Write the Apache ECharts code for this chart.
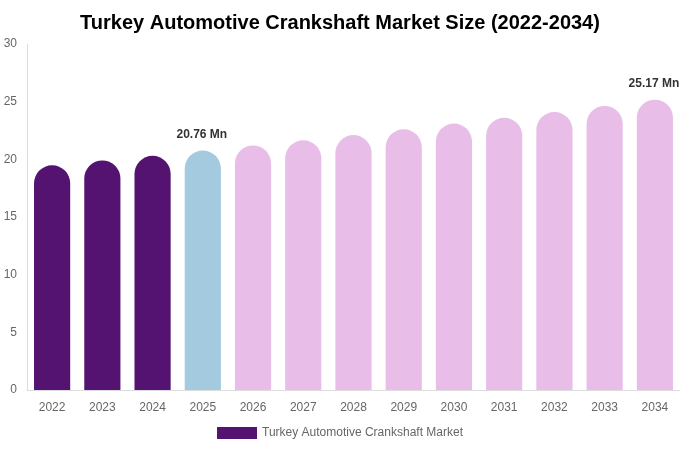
<!DOCTYPE html>
<html><head><meta charset="utf-8">
<script src="https://cdn.jsdelivr.net/npm/echarts@6/dist/echarts.min.js"></script>
<style>html,body{margin:0;padding:0;background:#fff}#c{width:680px;height:450px}</style>
</head><body><div id="c"></div>
<script>
const categories = ['2022','2023','2024','2025','2026','2027','2028','2029','2030','2031','2032','2033','2034'];
const values = [19.48, 19.9, 20.3, 20.76, 21.2, 21.65, 22.1, 22.6, 23.1, 23.6, 24.1, 24.63, 25.17];
const labeledYears = ['2025','2034'];
const seriesName = 'Turkey Automotive Crankshaft Market';
const titleText = 'Turkey Automotive Crankshaft Market Size (2022-2034)';
const yTicks = [0, 5, 10, 15, 20, 25, 30];

const colHist = '#541371', colBase = '#a3cadf', colFc = '#e8bde8';
const data = values.map((v, i) => {
  const y = +categories[i];
  const color = y < 2025 ? colHist : (y === 2025 ? colBase : colFc);
  const show = labeledYears.includes(categories[i]);
  return {
    value: v,
    itemStyle: { color: color, borderRadius: [18, 18, 0, 0] },
    label: { show: show, position: 'top', distance: 10, offset: [-1, 0], formatter: v.toFixed(2) + ' Mn',
      fontWeight: 'bold', fontSize: 12, color: '#333', fontFamily: 'Liberation Sans, Arial, sans-serif' }
  };
});

const chart = echarts.init(document.getElementById('c'));
chart.setOption({
  animation: false,
  title: { text: titleText, left: 'center', top: 8,
    textStyle: { fontSize: 20, fontWeight: 'bold', color: '#000', fontFamily: 'Liberation Sans, Arial, sans-serif' } },
  grid: { left: 27, right: 0, top: 44, bottom: 60, containLabel: false },
  legend: { bottom: 6, left: 'center', itemWidth: 40, itemHeight: 12, itemGap: 6, icon: 'rect',
    data: [{ name: seriesName, itemStyle: { color: colHist } }],
    textStyle: { color: '#666', fontSize: 12, fontFamily: 'Liberation Sans, Arial, sans-serif' } },
  xAxis: { type: 'category', data: categories,
    axisLine: { show: true, lineStyle: { color: '#ddd' } }, axisTick: { show: false },
    axisLabel: { color: '#666', fontSize: 12, margin: 12, fontFamily: 'Liberation Sans, Arial, sans-serif' } },
  yAxis: { type: 'value', min: yTicks[0], max: yTicks[yTicks.length - 1], interval: 5,
    axisLine: { show: true, lineStyle: { color: '#ddd' } }, axisTick: { show: false },
    splitLine: { show: false },
    axisLabel: { color: '#666', fontSize: 12, margin: 10, fontFamily: 'Liberation Sans, Arial, sans-serif' } },
  series: [{ name: seriesName, type: 'bar', barWidth: '72%', data: data, itemStyle: { color: colHist } }]
});
</script></body></html>
